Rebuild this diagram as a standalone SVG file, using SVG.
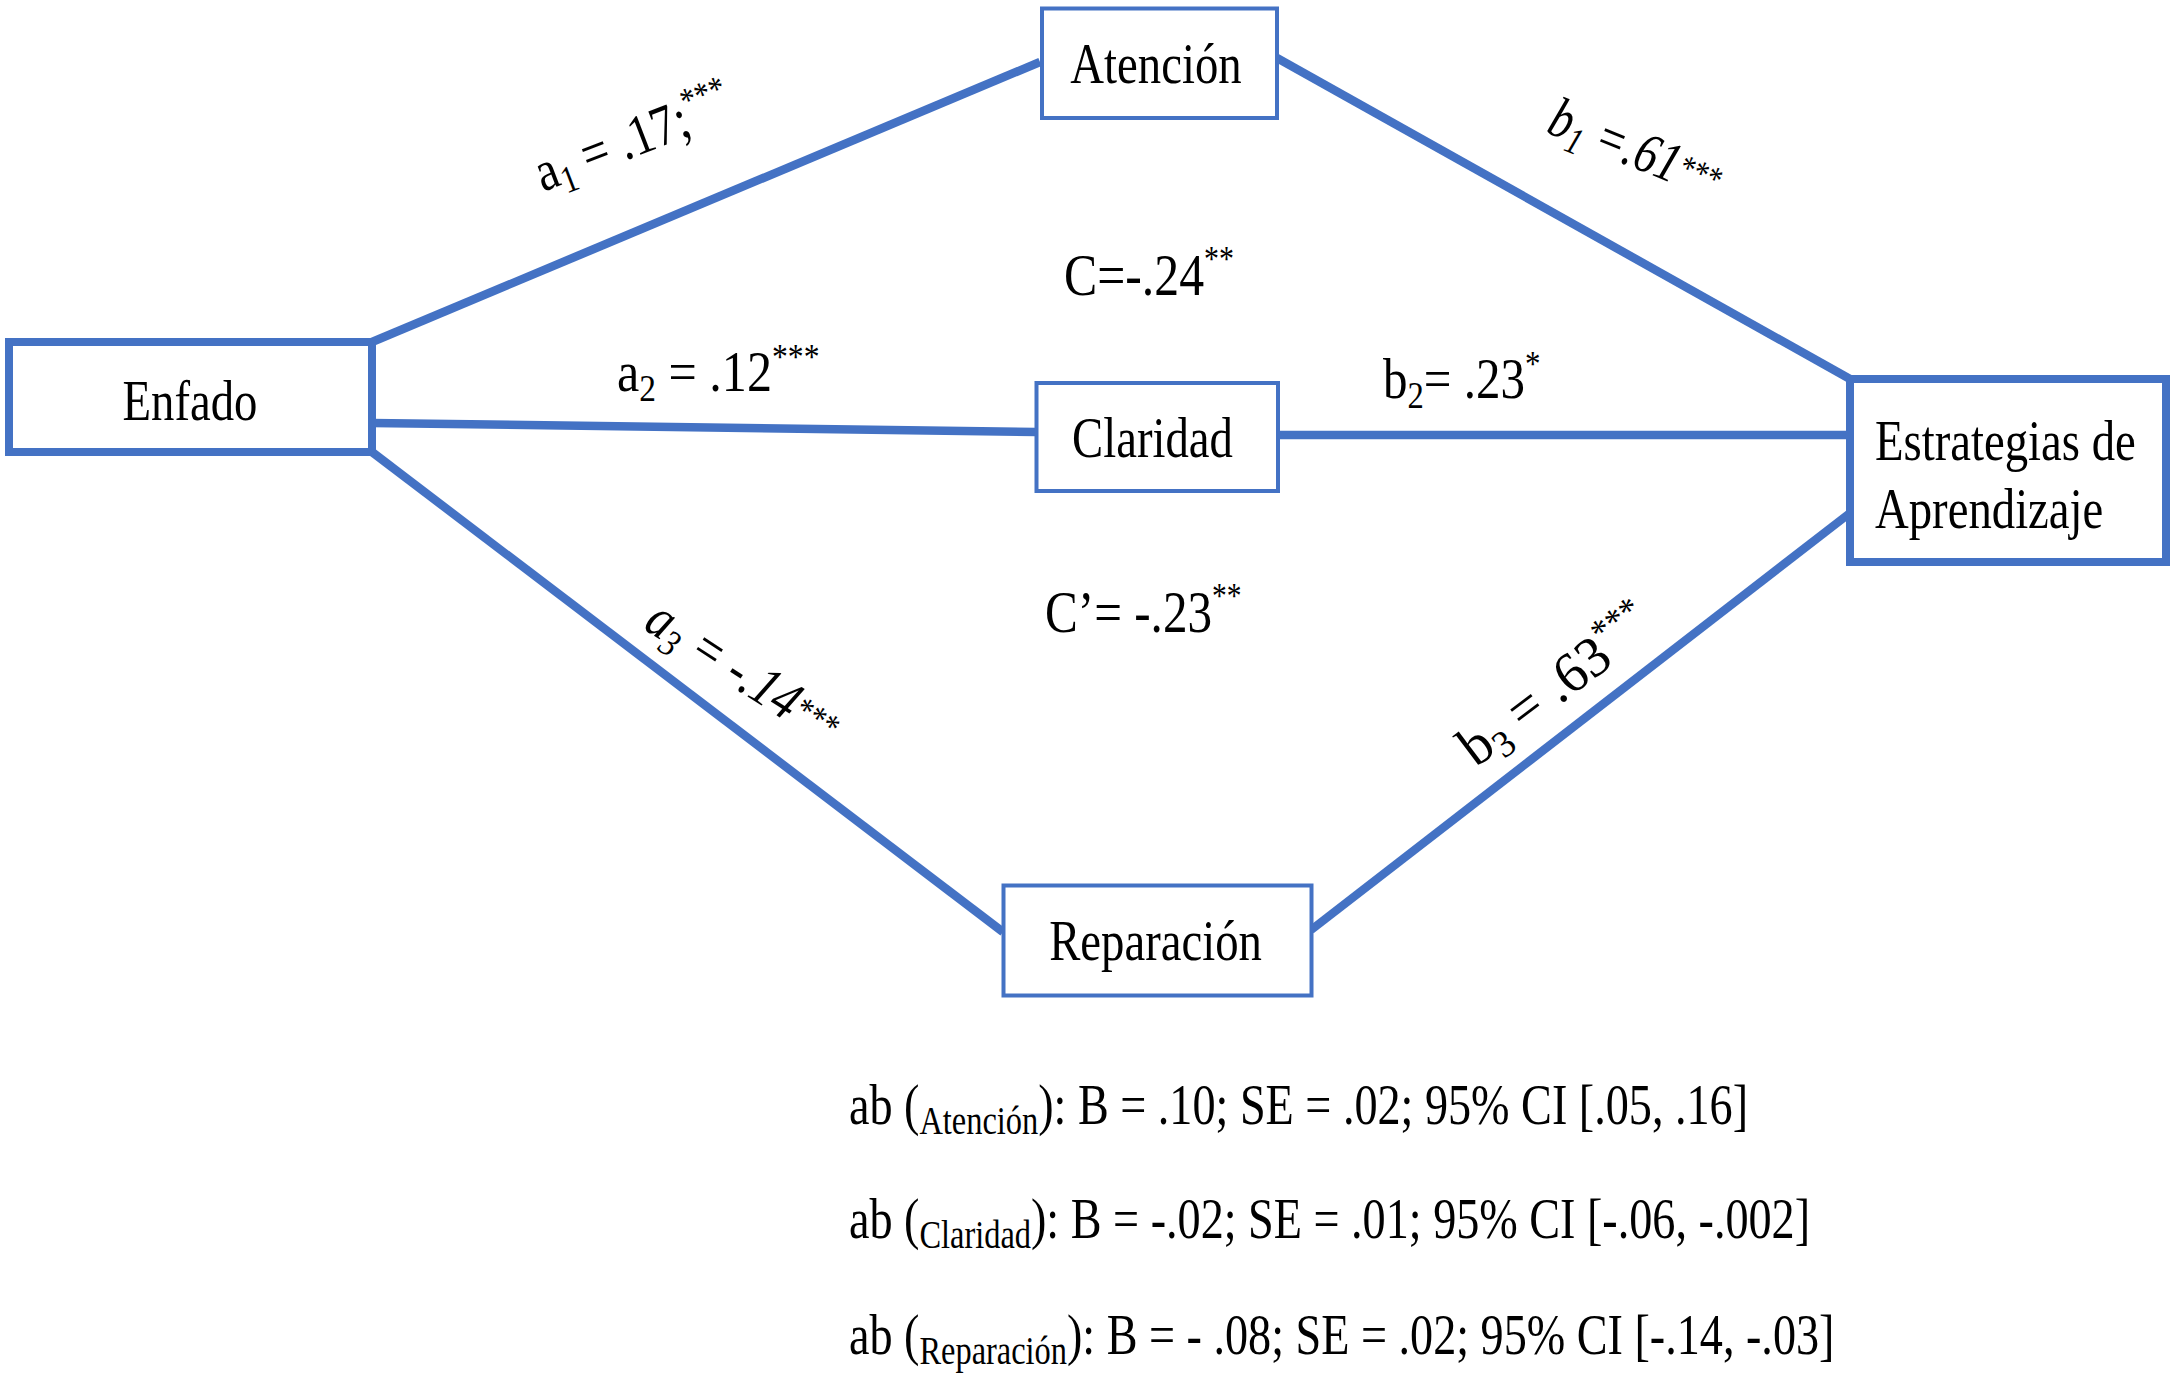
<svg xmlns="http://www.w3.org/2000/svg" width="2175" height="1383" viewBox="0 0 2175 1383">
<style>
.box{fill:#fff;stroke:#4472c4}
.thick{stroke-width:8}
.thin{stroke-width:4}
.edge{stroke:#4472c4;stroke-width:8.5;fill:none;stroke-linecap:butt}
text{font-family:"Liberation Serif","Times New Roman",serif;fill:#000}
.n{font-size:57px}
.c{font-size:60px}
.sub{font-size:38px}
.sup{font-size:36px}
.bsub{font-size:40px}
.it{font-style:italic}
</style>
<rect width="2175" height="1383" fill="#fff"/>
<g id="connectors">
  <line class="edge" x1="372" y1="342" x2="1040" y2="62"/>
  <line class="edge" x1="372" y1="423" x2="1036" y2="432"/>
  <line class="edge" x1="372" y1="452" x2="1003" y2="932"/>
  <line class="edge" x1="1277" y1="58" x2="1850" y2="379"/>
  <line class="edge" x1="1278" y1="435" x2="1850" y2="435"/>
  <line class="edge" x1="1311" y1="930" x2="1850" y2="513"/>
</g>
<g id="labels">
  <text class="n" transform="translate(543,192) rotate(-21) scale(0.84,1)">a<tspan class="sub" dy="10">1</tspan><tspan dy="-10"> = .17;</tspan><tspan class="sup" dy="-22">***</tspan></text>
  <text class="n" transform="translate(617,391) scale(0.88,1)">a<tspan class="sub" dy="10">2</tspan><tspan dy="-10"> = .12</tspan><tspan class="sup" dy="-22">***</tspan></text>
  <text class="n it" transform="translate(642,628) rotate(33) scale(0.84,1)">a<tspan class="sub" dy="10">3</tspan><tspan dy="-10"> = -.14</tspan><tspan class="sup" dy="-8">***</tspan></text>
  <text class="n it" transform="translate(1545,132) rotate(22) scale(0.8,1)">b<tspan class="sub" dy="10">1</tspan><tspan dy="-10"> =.61</tspan><tspan class="sup" dy="-8">***</tspan></text>
  <text class="n" transform="translate(1383,398) scale(0.86,1)">b<tspan class="sub" dy="10">2</tspan><tspan dy="-10">= .23</tspan><tspan class="sup" dy="-22">*</tspan></text>
  <text class="n" transform="translate(1476,768) rotate(-37) scale(0.97,1)">b<tspan class="sub" dy="10">3</tspan><tspan dy="-10"> = .63</tspan><tspan class="sup" dy="-22">***</tspan></text>
  <text class="c" transform="translate(1064,295) scale(0.83,1)">C=-.24<tspan class="sup" dy="-24">**</tspan></text>
  <text class="c" transform="translate(1045,632) scale(0.82,1)">C’= -.23<tspan class="sup" dy="-24">**</tspan></text>
</g>
<g id="node-enfado">
  <rect class="box thick" x="9" y="342" width="363" height="110"/>
  <text class="n" text-anchor="middle" transform="translate(190,420) scale(0.82,1)">Enfado</text>
</g>
<g id="node-atencion">
  <rect class="box thin" x="1042" y="8.5" width="235" height="109.5"/>
  <text class="n" text-anchor="middle" transform="translate(1156,83) scale(0.82,1)">Atención</text>
</g>
<g id="node-claridad">
  <rect class="box thin" x="1036.5" y="383" width="241.5" height="108"/>
  <text class="n" text-anchor="middle" transform="translate(1152.5,457) scale(0.82,1)">Claridad</text>
</g>
<g id="node-reparacion">
  <rect class="box thin" x="1003.5" y="885.5" width="308" height="110"/>
  <text class="n" text-anchor="middle" transform="translate(1155.5,960) scale(0.82,1)">Reparación</text>
</g>
<g id="node-estrategias">
  <rect class="box thick" x="1850" y="379" width="316" height="183"/>
  <text class="n" transform="translate(1875,460) scale(0.82,1)">Estrategias de</text>
  <text class="n" transform="translate(1875,528) scale(0.82,1)">Aprendizaje</text>
</g>
<g id="effects">
  <text class="n" transform="translate(849,1124) scale(0.81,1)">ab (<tspan class="bsub" dy="10">Atención</tspan><tspan dy="-10">): B = .10; SE = .02; 95% CI [.05, .16]</tspan></text>
  <text class="n" transform="translate(849,1238) scale(0.81,1)">ab (<tspan class="bsub" dy="10">Claridad</tspan><tspan dy="-10">): B = -.02; SE = .01; 95% CI [-.06, -.002]</tspan></text>
  <text class="n" transform="translate(849,1354) scale(0.81,1)">ab (<tspan class="bsub" dy="10">Reparación</tspan><tspan dy="-10">): B = - .08; SE = .02; 95% CI [-.14, -.03]</tspan></text>
</g>
</svg>
